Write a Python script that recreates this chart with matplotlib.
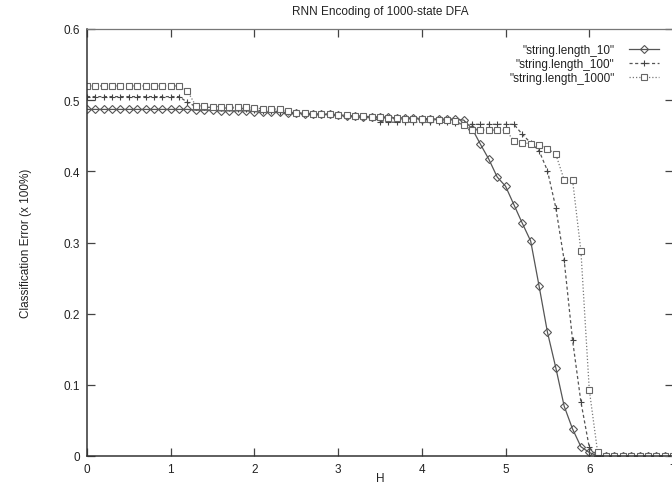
import matplotlib
matplotlib.use('Agg')
import matplotlib.pyplot as plt

plt.rcParams['font.family'] = ['Liberation Sans', 'DejaVu Sans']

# H grid, 0.0 .. 7.0 step 0.1
H = [round(0.1 * i, 1) for i in range(71)]

len_10 = [0.487, 0.487, 0.487, 0.487, 0.487, 0.487, 0.487, 0.487, 0.487, 0.487,
          0.487, 0.487, 0.487,
          0.486, 0.486, 0.486, 0.485, 0.485, 0.485, 0.485,
          0.484, 0.483, 0.483, 0.483, 0.482,
          0.482, 0.481, 0.481, 0.480, 0.480,
          0.479, 0.478, 0.478, 0.477, 0.477,
          0.476, 0.476, 0.475, 0.475, 0.475,
          0.474, 0.474, 0.473, 0.473, 0.473,
          0.472, 0.460, 0.438, 0.417, 0.392, 0.379, 0.353, 0.327, 0.302, 0.239,
          0.174, 0.124, 0.070, 0.038, 0.013, 0.005,
          0.0, 0.0, 0.0, 0.0, 0.0, 0.0, 0.0, 0.0, 0.0, 0.0]

len_100 = [0.505, 0.505, 0.505, 0.505, 0.505, 0.505, 0.505, 0.505, 0.505, 0.505,
           0.505, 0.505,
           0.497,
           0.491, 0.490, 0.490, 0.489, 0.489, 0.488, 0.488,
           0.486, 0.485, 0.485, 0.484, 0.483,
           0.482, 0.482, 0.481, 0.481, 0.480,
           0.479, 0.478, 0.478, 0.477, 0.477,
           0.470, 0.469, 0.469, 0.469, 0.469,
           0.469, 0.469, 0.469, 0.469, 0.468,
           0.466, 0.466, 0.466, 0.466, 0.466, 0.466, 0.466,
           0.452, 0.440, 0.429, 0.401, 0.349, 0.275, 0.163, 0.076, 0.012,
           0.0, 0.0, 0.0, 0.0, 0.0, 0.0, 0.0, 0.0, 0.0, 0.0]

len_1000 = [0.520, 0.520, 0.520, 0.520, 0.520, 0.520, 0.520, 0.520, 0.520, 0.520,
            0.520, 0.520,
            0.513,
            0.492, 0.492, 0.491, 0.491, 0.490, 0.490, 0.490,
            0.489, 0.488, 0.488, 0.487, 0.485,
            0.482, 0.482, 0.481, 0.481, 0.480,
            0.479, 0.479, 0.478, 0.478, 0.477,
            0.476, 0.475, 0.475, 0.474, 0.474,
            0.473, 0.473, 0.472, 0.472, 0.471,
            0.465, 0.458, 0.458, 0.458, 0.458, 0.458,
            0.443, 0.440, 0.439, 0.437, 0.432, 0.424, 0.388, 0.388, 0.288, 0.093, 0.005,
            0.0, 0.0, 0.0, 0.0, 0.0, 0.0, 0.0, 0.0, 0.0]

LINE = '#555555'

fig = plt.figure(figsize=(6.72, 4.89), dpi=100)
fig.patch.set_facecolor('white')
ax = fig.add_axes([87 / 672, 32 / 489, 586 / 672, 427 / 489])

ax.plot(H, len_10, color=LINE, lw=0.9, ls='-', marker='D', ms=3.6,
        mfc='none', mec='#555555', mew=0.8, label='"string.length_10"')
ax.plot(H, len_100, color=LINE, lw=0.9, ls=(0, (2.5, 2)), marker='+', ms=5,
        mec='#444444', mew=0.8, label='"string.length_100"')
ax.plot(H, len_1000, color='#777777', lw=0.9, ls=(0, (1, 1.6)), marker='s', ms=5,
        mfc='white', mec='#666666', mew=0.8, label='"string.length_1000"')

ax.set_xlim(0, 7)
ax.set_ylim(0, 0.6)
ax.set_xticks(range(8))
ax.set_xticklabels([str(i) for i in range(8)])
ax.set_yticks([0, 0.1, 0.2, 0.3, 0.4, 0.5, 0.6])
ax.set_yticklabels(['0', '0.1', '0.2', '0.3', '0.4', '0.5', '0.6'])
ax.tick_params(direction='in', length=6, width=0.9, color='#444444',
               top=True, right=True, labelsize=8.5, labelcolor='#222222', pad=5)

for side in ['left', 'bottom']:
    ax.spines[side].set_color('#333333')
    ax.spines[side].set_linewidth(1.1)
for side in ['top', 'right']:
    ax.spines[side].set_color('#777777')
    ax.spines[side].set_linewidth(0.9)

ax.set_title('RNN Encoding of 1000-state DFA', fontsize=8.5, color='#222222', pad=11)
ax.set_xlabel('H', fontsize=8.5, color='#222222', labelpad=-2)
ax.set_ylabel('Classification Error (x 100%)', fontsize=8.5, color='#222222', labelpad=23)

leg = ax.legend(loc='upper right', markerfirst=False, frameon=False, fontsize=8.5,
                handlelength=2.6, handletextpad=1.2, labelspacing=0.15,
                borderaxespad=0.0, bbox_to_anchor=(0.985, 0.975))
for t in leg.get_texts():
    t.set_color('#222222')

plt.savefig('out.png', dpi=100, facecolor='white')
plt.close()
